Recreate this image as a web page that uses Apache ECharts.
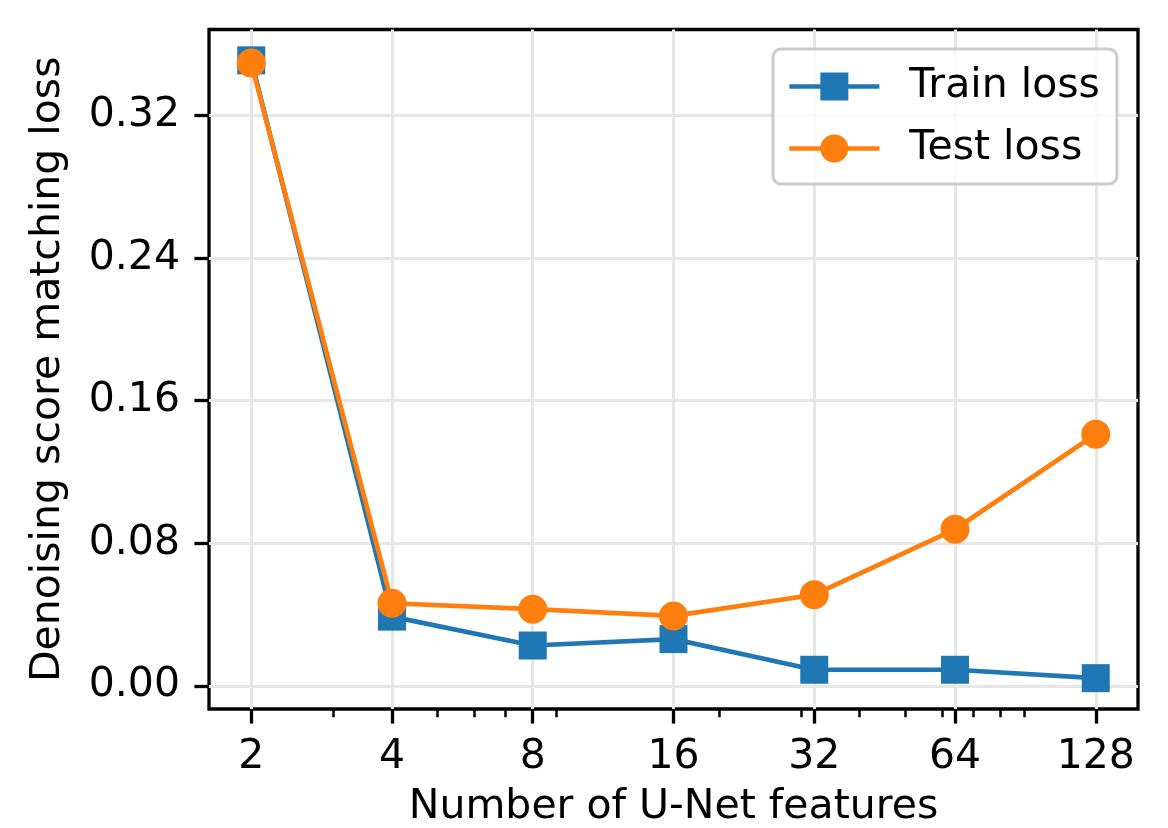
<!DOCTYPE html>
<html lang="en">

<head>
  <meta charset="UTF-8">
  <title>U-Net features vs loss</title>
  <script src="https://cdn.jsdelivr.net/npm/echarts@6/dist/echarts.min.js"></script>
  <style>
    html, body { margin: 0; padding: 0; background: #fff; }
  </style>
</head>

<body>
  <div id="main" style="width: 1168px;height:828px;"></div>
  <script>
    // data
    var features = [2, 4, 8, 16, 32, 64, 128];
    var trainLoss = [0.3508, 0.0388, 0.0226, 0.0262, 0.0090, 0.0090, 0.0043];
    var testLoss = [0.3493, 0.0463, 0.0430, 0.0392, 0.0511, 0.0878, 0.1411];

    var xTicks = [2, 4, 8, 16, 32, 64, 128];
    var xMinorTicks = [3, 5, 6, 7, 9, 20, 30, 40, 50, 60, 70, 80, 90];
    var yTicks = [0, 0.08, 0.16, 0.24, 0.32];

    var font = 'DejaVu Sans';
    var log2 = function (v) { return Math.log(v) / Math.log(2); };

    var myChart = echarts.init(document.getElementById('main'));

    function pairs(vals) {
      return features.map(function (f, i) { return [log2(f), vals[i]]; });
    }

    const option = {
      animation: false,
      backgroundColor: '#fff',
      textStyle: { fontFamily: font, color: '#000' },
      grid: {
        left: 209, right: 30, top: 29.5, bottom: 119,
        show: true, borderColor: '#000', borderWidth: 3.3,
        outerBoundsMode: 'none'
      },
      legend: {
        data: ['Train loss', 'Test loss'],
        orient: 'vertical',
        left: 773, top: 49,
        padding: [17, 17, 15, 14],
        itemWidth: 90, itemHeight: 35, itemGap: 21,
        borderColor: '#cccccc', borderWidth: 3, borderRadius: 8,
        backgroundColor: 'rgba(255,255,255,0.8)',
        lineStyle: { width: 4.7 },
        textStyle: { fontFamily: font, fontSize: 41, lineHeight: 41, color: '#000', padding: [0, 0, 0, 25] }
      },
      xAxis: [{
        type: 'value',
        position: 'bottom',
        min: log2(2) - 0.3, max: log2(128) + 0.3,
        name: 'Number of U-Net features',
        nameLocation: 'middle', nameGap: 78,
        nameTextStyle: { fontFamily: font, fontSize: 41, color: '#000' },
        axisLine: { show: false, onZero: false },
        axisTick: { show: true, length: 14.6, lineStyle: { color: '#000', width: 3.3 }, customValues: xTicks.map(log2) },
        axisLabel: {
          fontFamily: font, fontSize: 41, color: '#000', margin: 28,
          customValues: xTicks.map(log2),
          formatter: function (v) { return String(Math.round(Math.pow(2, v))); }
        },
        splitLine: { show: true, lineStyle: { color: '#e6e6e6', width: 3 } }
      }, {
        // minor ticks only
        type: 'value',
        position: 'bottom',
        min: log2(2) - 0.3, max: log2(128) + 0.3,
        axisLine: { show: false, onZero: false },
        axisTick: { show: true, length: 8.3, lineStyle: { color: '#000', width: 2.5 }, customValues: xMinorTicks.map(log2) },
        axisLabel: { show: false },
        splitLine: { show: false }
      }],
      yAxis: {
        type: 'value',
        min: -0.013, max: 0.3681,
        name: 'Denoising score matching loss',
        nameLocation: 'middle', nameGap: 140, nameRotate: 90,
        nameTextStyle: { fontFamily: font, fontSize: 41, color: '#000' },
        axisLine: { show: false, onZero: false },
        axisTick: { show: true, length: 14.6, lineStyle: { color: '#000', width: 3.3 }, customValues: yTicks },
        axisLabel: {
          fontFamily: font, fontSize: 41, color: '#000', margin: 29,
          customValues: yTicks,
          formatter: function (v) { return v.toFixed(2); }
        },
        splitLine: { show: true, lineStyle: { color: '#e6e6e6', width: 3 } }
      },
      series: [{
        name: 'Train loss',
        type: 'line',
        data: pairs(trainLoss),
        symbol: 'rect', symbolSize: 28,
        color: '#1f77b4',
        lineStyle: { width: 4.7, color: '#1f77b4' },
        itemStyle: { color: '#1f77b4' }
      }, {
        name: 'Test loss',
        type: 'line',
        data: pairs(testLoss),
        symbol: 'circle', symbolSize: 29,
        color: '#ff7f0e',
        lineStyle: { width: 4.7, color: '#ff7f0e' },
        itemStyle: { color: '#ff7f0e' }
      }]
    };

    myChart.setOption(option);
  </script>
</body>

</html>
